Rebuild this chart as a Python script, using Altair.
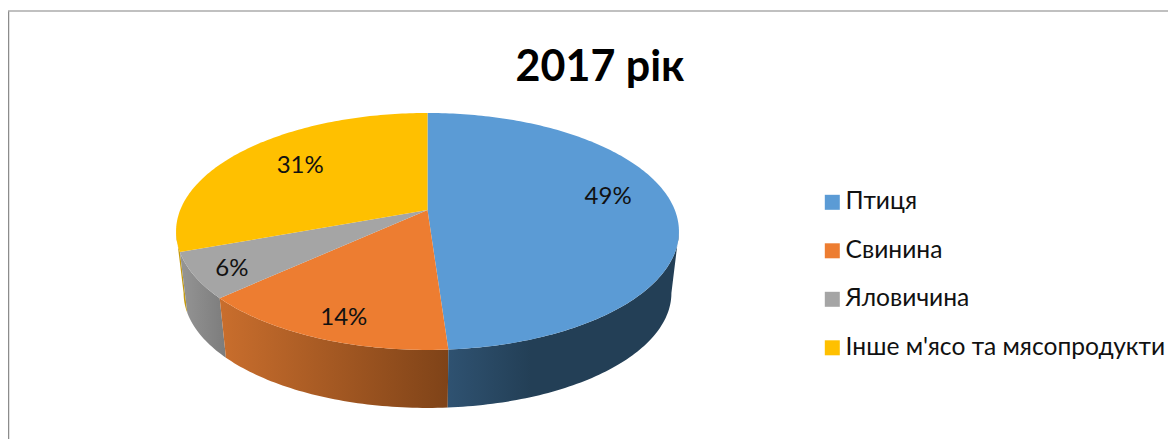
import math
import altair as alt

NAMES = ["Птиця", "Свинина", "Яловичина", "Інше м'ясо та мясопродукти"]
SHARES = [48.9, 14.3, 6.2, 30.6]
COLORS = ["#5B9BD5", "#ED7D31", "#A5A5A5", "#FFC000"]
TITLE = "2017 рік"

W, H = 1160, 431
CX, CY = 419.5, 202.0
A, B, C = 247.3, 114.6, 0.181
K, CY_B = 0.97, 264.2
LABEL_F = [0.73, 0.84, 0.88, 0.70]
LABEL_DX = [1, 6, 7, 5]
LABEL_DY = [-10, 4, 2, -1]


def rim(deg, f=1.0):
    t = math.radians(deg)
    s, v = math.sin(t), -math.cos(t)
    d = 1 - C * f * v
    return CX + A * f * s / d, CY + B * f * v / d


def arc_points(a0, a1):
    n = max(2, int(abs(a1 - a0)) + 1)
    return [a0 + (a1 - a0) * i / n for i in range(n + 1)]


def feature(name, pts):
    ring = [[round(x, 2), round(y, 2)] for x, y in pts]
    ring.append(ring[0])
    return {"type": "Feature", "properties": {"name": name},
            "geometry": {"type": "Polygon", "coordinates": [ring]}}


# angle at which the rim is widest: the walls are only visible between these two
SIL = math.degrees(math.acos(-C))
VIS0, VIS1 = SIL, 360.0 - SIL

starts, a = [], 0.0
for s in SHARES:
    starts.append(a)
    a += s * 3.6
ends = starts[1:] + [360.0]

tops, walls, labels = [], [], []
for i, name in enumerate(NAMES):
    top_rim = [rim(t) for t in arc_points(starts[i], ends[i])]
    tops.append(feature(name, [(CX, CY)] + top_rim))
    wall_rim = [rim(t) for t in arc_points(max(starts[i], VIS0), min(ends[i], VIS1))]
    low = [(CX + K * (x - CX), CY_B + K * (y - CY)) for x, y in wall_rim]
    walls.append(feature(name, wall_rim + low[::-1]))
    lx, ly = rim((starts[i] + ends[i]) / 2, LABEL_F[i])
    labels.append({"x": lx + LABEL_DX[i], "y": ly + LABEL_DY[i], "t": f"{round(SHARES[i])}%"})

PROJ = dict(type="identity", scale=1, translate=[0, 0])


def grad(stops):
    return alt.LinearGradient(
        gradient="linear", x1=0, x2=1, y1=0, y2=0,
        stops=[alt.GradientStop(offset=o, color=c) for o, c in stops])


WALL_FILLS = [
    grad([(0.0, "#2F5271"), (0.36, "#233F56"), (1.0, "#233F56")]),
    grad([(0.0, "#C96E2D"), (1.0, "#7F4318")]),
    grad([(0.0, "#959595"), (1.0, "#7C7C7C")]),
    grad([(0.0, "#C49A10"), (1.0, "#C49A10")]),
]

layers = []
for i in [3, 2, 1, 0]:
    layers.append(alt.Chart(alt.Data(values=[walls[i]])).mark_geoshape(
        fill=WALL_FILLS[i], strokeWidth=0).project(**PROJ))

top_layer = alt.Chart(alt.Data(values=tops)).mark_geoshape(strokeWidth=0).encode(
    color=alt.Color(
        "properties.name:N",
        scale=alt.Scale(domain=NAMES, range=COLORS),
        legend=alt.Legend(
            orient="none", legendX=812, legendY=182, title=None,
            symbolType="square", symbolSize=225, symbolStrokeWidth=0,
            labelFont="Lato", labelFontSize=24.6, labelColor="#111111",
            labelLimit=400, labelOffset=1, rowPadding=23.5, padding=0,
        ),
    )
).project(**PROJ)
layers.append(top_layer)

label_layer = alt.Chart(alt.Data(values=labels)).mark_text(
    font="Lato", fontSize=24, color="#111111"
).encode(longitude="x:Q", latitude="y:Q", text="t:N").project(**PROJ)
layers.append(label_layer)

title_layer = alt.Chart(alt.Data(values=[{"t": TITLE}])).mark_text(
    font="Lato", fontSize=43, fontWeight="bold", color="#000000"
).encode(x=alt.value(592), y=alt.value(59.5), text="t:N")
layers.append(title_layer)

layers.append(alt.Chart(alt.Data(values=[{"a": 1}])).mark_rule(
    color="#8C8C8C", strokeWidth=1.5
).encode(x=alt.value(0.5), y=alt.value(3), y2=alt.value(H)))
layers.append(alt.Chart(alt.Data(values=[{"a": 1}])).mark_rule(
    color="#ABABAB", strokeWidth=1.5
).encode(x=alt.value(0), x2=alt.value(W), y=alt.value(3)))

chart = alt.layer(*layers).properties(
    width=W, height=H, padding=0,
    autosize=alt.AutoSizeParams(type="none"),
).configure_view(stroke=None)

chart.save("out.html", embed_options={"renderer": "svg", "actions": False})
